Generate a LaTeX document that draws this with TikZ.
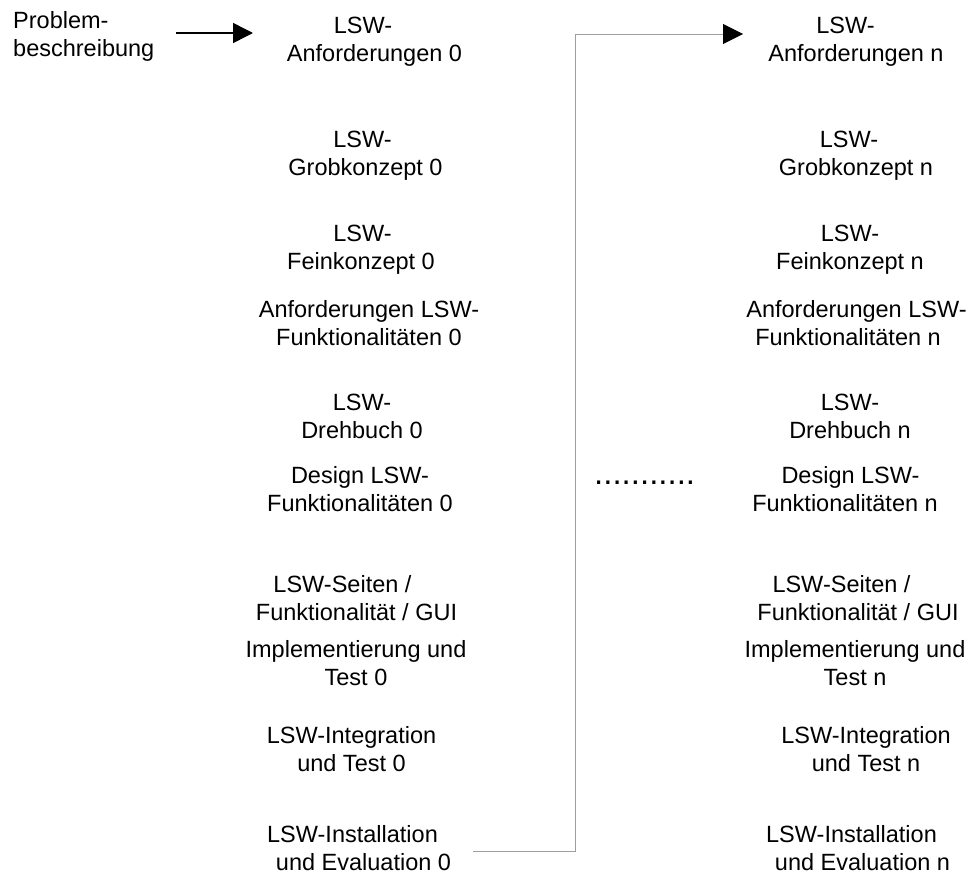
\documentclass[tikz,border=0pt]{standalone}
\usepackage{fontspec}
\setmainfont{Liberation Sans}
\usetikzlibrary{arrows.meta}
\begin{document}
% Each label node is placed by the baseline of its last line.
\begin{tikzpicture}[x=1pt,y=-1pt,
  lbl/.style={align=center, anchor=base, inner sep=0pt,
    font=\fontsize{23.5}{28.5}\selectfont},
  src/.style={align=left, anchor=base west, inner sep=0pt,
    font=\fontsize{23.5}{28.5}\selectfont},
  blackarrow/.style={line width=1.5pt, -{Triangle[length=20pt,width=20pt]}},
  grayarrow/.style={line width=1pt, draw=black!38,
    -{Triangle[length=20pt,width=20pt,color=black]}},
  dotrow/.style={anchor=base west, inner sep=0pt, font=\fontsize{33}{36}\selectfont}]
\useasboundingbox (0,0) rectangle (971,878);

% input document
\node[src] (prob) at (13,56.5) {Problem-\\beschreibung};

% first iteration (index 0)
\node[lbl] (anf0)  at (374.5,61.5) {LSW-\kern23pt\\Anforderungen 0};
\node[lbl] (grob0) at (365.5,175.5) {LSW-\kern6pt\\Grobkonzept 0};
\node[lbl] (fein0) at (361,269.5)   {\kern3pt LSW-\\Feinkonzept 0};
\node[lbl] (afun0) at (369,345.5)   {Anforderungen LSW-\\Funktionalitäten 0};
\node[lbl] (dreh0) at (362,438.5)   {LSW-\\Drehbuch 0};
\node[lbl] (dfun0) at (360,511.5)   {Design LSW-\\Funktionalitäten 0};
\node[lbl] (gui0)  at (356.5,620.5) {LSW-Seiten /\kern28pt\\Funktionalität / GUI};
\node[lbl] (impl0) at (356,685.5)   {Implementierung und\\Test 0};
\node[lbl] (intg0) at (351.5,771.5) {LSW-Integration\\und Test 0};
\node[lbl] (inst0) at (363.5,870.5) {LSW-Installation\kern22pt\\und Evaluation 0};

% last iteration (index n)
\node[lbl] (anfn)  at (856,61.5)    {LSW-\kern21pt\\Anforderungen n};
\node[lbl] (grobn) at (856,175.5)   {LSW-\kern14pt\\Grobkonzept n};
\node[lbl] (feinn) at (850,269.5)   {LSW-\\Feinkonzept n};
\node[lbl] (afunn) at (856.5,345.5) {Anforderungen LSW-\\Funktionalitäten n\kern17pt};
\node[lbl] (drehn) at (850,438.5)   {LSW-\\Drehbuch n};
\node[lbl] (dfunn) at (845,511.5)   {\kern11pt Design LSW-\\Funktionalitäten n};
\node[lbl] (guin)  at (858,620.5)   {LSW-Seiten /\kern33pt\\Funktionalität / GUI};
\node[lbl] (impln) at (855,685.5)   {Implementierung und\\Test n};
\node[lbl] (intgn) at (866,771.5)   {LSW-Integration\\und Test n};
\node[lbl] (instn) at (862.5,870.5) {LSW-Installation\kern22pt\\und Evaluation n};

% intermediate iterations
\node[dotrow] (dots) at (594,484) {...........};

% connectors
\coordinate (probout) at (176,33);
\coordinate (anf0in) at (253,33);
\draw[blackarrow] (probout) -- (anf0in);

\coordinate (inst0out) at (473,851);
\coordinate (loop) at (575,34);
\coordinate (anfnin) at (743,34);
\draw[grayarrow] (inst0out) -| (loop) -- (anfnin);
\end{tikzpicture}
\end{document}
